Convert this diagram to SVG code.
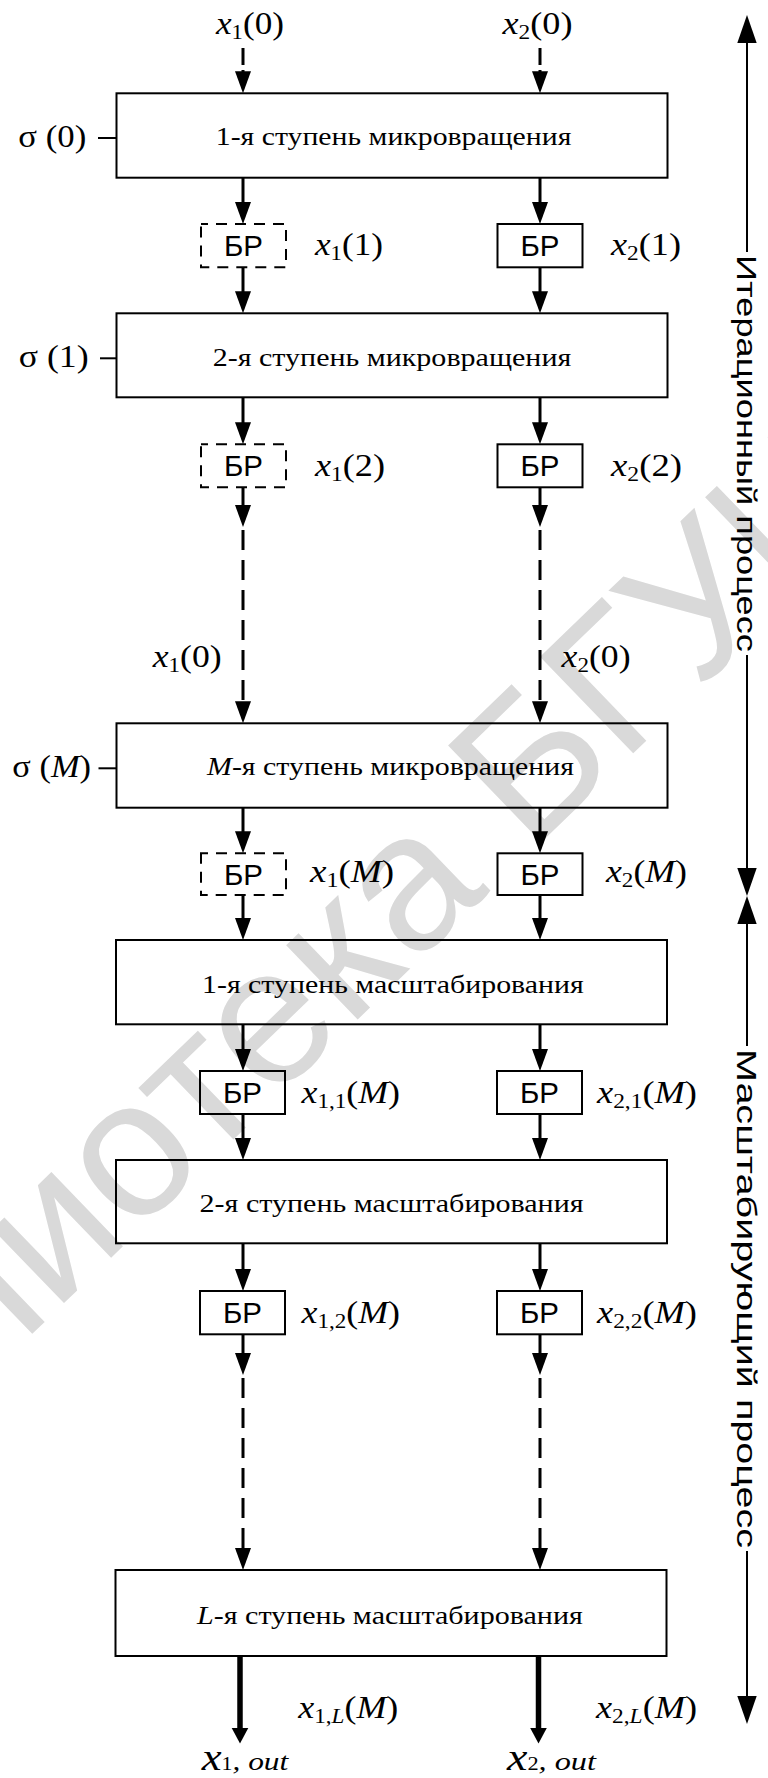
<svg xmlns="http://www.w3.org/2000/svg" width="768" height="1778" viewBox="0 0 768 1778">
<style>
.box{fill:none;stroke:#000;stroke-width:2}
.br{fill:none;stroke:#000;stroke-width:2}
.brd{fill:none;stroke:#000;stroke-width:2;stroke-dasharray:11 8;stroke-dashoffset:4}
.ln{stroke:#000;stroke-width:3;fill:none}
.dl{stroke:#000;stroke-width:3;fill:none;stroke-dasharray:20 10}
.td{stroke:#000;stroke-width:3;fill:none;stroke-dasharray:17 5}
.ol{stroke:#000;stroke-width:5.5;fill:none}
.thin{stroke:#000;stroke-width:2;fill:none}
.bt{font-family:"Liberation Serif","Times New Roman",serif;font-size:26px;text-anchor:middle}
.brt{font-family:"Liberation Sans",Arial,sans-serif;font-size:29px;text-anchor:middle}
.m{font-family:"Liberation Serif","Times New Roman",serif;font-size:31px}
.i{font-style:italic}
.side{font-family:"Liberation Sans",Arial,sans-serif;font-size:28px}
.wm{font-family:"Liberation Sans",Arial,sans-serif;font-size:195px;fill:#d9d9d9}
</style>
<defs>
<path id="ah" d="M0,0 L-8,-22 L8,-22 Z"/>
<path id="ahb" d="M0,0 L-9.7,-28 L9.7,-28 Z"/>
<path id="aho" d="M0,0 L-8.3,-15.5 L8.3,-15.5 Z"/>
</defs>
<rect width="768" height="1778" fill="#fff"/>
<text class="wm" transform="translate(-272,1627.5) rotate(-44)">Библиотека БГУИР</text>

<g id="connectors">
<line class="td" x1="243" y1="48" x2="243" y2="72"/><use href="#ah" x="243" y="93.3"/>
<line class="td" x1="540" y1="48" x2="540" y2="72"/><use href="#ah" x="540" y="93.3"/>
<line class="ln" x1="243" y1="177.7" x2="243" y2="205"/><use href="#ah" x="243" y="224"/>
<line class="ln" x1="540" y1="177.7" x2="540" y2="205"/><use href="#ah" x="540" y="224"/>
<line class="ln" x1="243" y1="267.3" x2="243" y2="295"/><use href="#ah" x="243" y="313.3"/>
<line class="ln" x1="540" y1="267.3" x2="540" y2="295"/><use href="#ah" x="540" y="313.3"/>
<line class="ln" x1="243" y1="397.3" x2="243" y2="425"/><use href="#ah" x="243" y="444.3"/>
<line class="ln" x1="540" y1="397.3" x2="540" y2="425"/><use href="#ah" x="540" y="444.3"/>
<line class="ln" x1="243" y1="487.3" x2="243" y2="508"/><use href="#ah" x="243" y="527"/>
<line class="ln" x1="540" y1="487.3" x2="540" y2="508"/><use href="#ah" x="540" y="527"/>
<line class="dl" x1="243" y1="530" x2="243" y2="703"/><use href="#ah" x="243" y="723.3"/>
<line class="dl" x1="540" y1="530" x2="540" y2="703"/><use href="#ah" x="540" y="723.3"/>
<line class="ln" x1="243" y1="807.7" x2="243" y2="835"/><use href="#ah" x="243" y="853.3"/>
<line class="ln" x1="540" y1="807.7" x2="540" y2="835"/><use href="#ah" x="540" y="853.3"/>
<line class="ln" x1="243" y1="895" x2="243" y2="920"/><use href="#ah" x="243" y="940"/>
<line class="ln" x1="540" y1="895" x2="540" y2="920"/><use href="#ah" x="540" y="940"/>
<line class="ln" x1="243" y1="1024.3" x2="243" y2="1052"/><use href="#ah" x="243" y="1071"/>
<line class="ln" x1="540" y1="1024.3" x2="540" y2="1052"/><use href="#ah" x="540" y="1071"/>
<line class="ln" x1="243" y1="1114" x2="243" y2="1140"/><use href="#ah" x="243" y="1160"/>
<line class="ln" x1="540" y1="1114" x2="540" y2="1140"/><use href="#ah" x="540" y="1160"/>
<line class="ln" x1="243" y1="1243.3" x2="243" y2="1272"/><use href="#ah" x="243" y="1291"/>
<line class="ln" x1="540" y1="1243.3" x2="540" y2="1272"/><use href="#ah" x="540" y="1291"/>
<line class="ln" x1="243" y1="1334.3" x2="243" y2="1356"/><use href="#ah" x="243" y="1375"/>
<line class="ln" x1="540" y1="1334.3" x2="540" y2="1356"/><use href="#ah" x="540" y="1375"/>
<line class="dl" x1="243" y1="1378" x2="243" y2="1550"/><use href="#ah" x="243" y="1570"/>
<line class="dl" x1="540" y1="1378" x2="540" y2="1550"/><use href="#ah" x="540" y="1570"/>
<line class="ol" x1="240" y1="1656" x2="240" y2="1730"/><use href="#aho" x="240" y="1743.5"/>
<line class="ol" x1="538.5" y1="1656" x2="538.5" y2="1730"/><use href="#aho" x="538.5" y="1743.5"/>
<line class="thin" x1="98" y1="138" x2="116.5" y2="138"/>
<line class="thin" x1="100" y1="358.3" x2="116.5" y2="358.3"/>
<line class="thin" x1="98.5" y1="768.3" x2="116.5" y2="768.3"/>
</g>

<g id="process-iter">
<line class="thin" x1="747" y1="40" x2="747" y2="252"/>
<use href="#ahb" transform="translate(747,15) rotate(180)"/>
<text class="side" transform="translate(737,255) rotate(90)" textLength="397" lengthAdjust="spacingAndGlyphs">Итерационный процесс</text>
<line class="thin" x1="747" y1="655" x2="747" y2="870"/>
<use href="#ahb" x="747" y="896"/>
</g>
<g id="process-scale">
<use href="#ahb" transform="translate(747,896) rotate(180)"/>
<line class="thin" x1="747" y1="922" x2="747" y2="1046"/>
<text class="side" transform="translate(737,1049) rotate(90)" textLength="499" lengthAdjust="spacingAndGlyphs">Масштабирующий процесс</text>
<line class="thin" x1="747" y1="1551" x2="747" y2="1698"/>
<use href="#ahb" x="747" y="1724"/>
</g>

<g id="in1"><text class="m" x="216" y="34" textLength="68" lengthAdjust="spacingAndGlyphs"><tspan class="i">x</tspan><tspan font-size="20" dy="5">1</tspan><tspan dy="-5">(0)</tspan></text></g>
<g id="in2"><text class="m" x="502.5" y="34" textLength="70" lengthAdjust="spacingAndGlyphs"><tspan class="i">x</tspan><tspan font-size="20" dy="5">2</tspan><tspan dy="-5">(0)</tspan></text></g>

<g id="stage1">
<rect class="box" x="116.5" y="93.3" width="551" height="84.4"/>
<text class="bt" x="393.6" y="145" textLength="355.6" lengthAdjust="spacingAndGlyphs">1-я ступень микровращения</text>
<text class="m" x="18.3" y="147" textLength="68" lengthAdjust="spacingAndGlyphs">σ (0)</text>
</g>
<g id="br1-1"><rect class="brd" x="201" y="224" width="85" height="43.3"/><text class="brt" x="243.5" y="256" textLength="39" lengthAdjust="spacingAndGlyphs">БР</text>
<text class="m" x="315" y="255" textLength="68" lengthAdjust="spacingAndGlyphs"><tspan class="i">x</tspan><tspan font-size="20" dy="5">1</tspan><tspan dy="-5">(1)</tspan></text></g>
<g id="br2-1"><rect class="br" x="497.5" y="224" width="85" height="43.3"/><text class="brt" x="540" y="256" textLength="39" lengthAdjust="spacingAndGlyphs">БР</text>
<text class="m" x="611" y="255" textLength="70" lengthAdjust="spacingAndGlyphs"><tspan class="i">x</tspan><tspan font-size="20" dy="5">2</tspan><tspan dy="-5">(1)</tspan></text></g>

<g id="stage2">
<rect class="box" x="116.5" y="313.3" width="551" height="84"/>
<text class="bt" x="392" y="365.5" textLength="358.6" lengthAdjust="spacingAndGlyphs">2-я ступень микровращения</text>
<text class="m" x="18.7" y="367" textLength="70" lengthAdjust="spacingAndGlyphs">σ (1)</text>
</g>
<g id="br1-2"><rect class="brd" x="201" y="444.3" width="85" height="43"/><text class="brt" x="243.5" y="476.3" textLength="39" lengthAdjust="spacingAndGlyphs">БР</text>
<text class="m" x="315" y="476" textLength="70" lengthAdjust="spacingAndGlyphs"><tspan class="i">x</tspan><tspan font-size="20" dy="5">1</tspan><tspan dy="-5">(2)</tspan></text></g>
<g id="br2-2"><rect class="br" x="497.5" y="444.3" width="85" height="43"/><text class="brt" x="540" y="476.3" textLength="39" lengthAdjust="spacingAndGlyphs">БР</text>
<text class="m" x="611" y="476" textLength="71" lengthAdjust="spacingAndGlyphs"><tspan class="i">x</tspan><tspan font-size="20" dy="5">2</tspan><tspan dy="-5">(2)</tspan></text></g>

<g id="mid-labels">
<text class="m" x="152.7" y="667" textLength="69" lengthAdjust="spacingAndGlyphs"><tspan class="i">x</tspan><tspan font-size="20" dy="5">1</tspan><tspan dy="-5">(0)</tspan></text>
<text class="m" x="561.6" y="667" textLength="69" lengthAdjust="spacingAndGlyphs"><tspan class="i">x</tspan><tspan font-size="20" dy="5">2</tspan><tspan dy="-5">(0)</tspan></text>
</g>

<g id="stageM">
<rect class="box" x="116.5" y="723.3" width="551" height="84.4"/>
<text class="bt" x="390.5" y="775" textLength="367" lengthAdjust="spacingAndGlyphs"><tspan class="i">M</tspan>-я ступень микровращения</text>
<text class="m" x="12.3" y="776.5" textLength="78.7" lengthAdjust="spacingAndGlyphs">σ (<tspan class="i">M</tspan>)</text>
</g>
<g id="br1-M"><rect class="brd" x="201" y="853.3" width="85" height="41.7"/><text class="brt" x="243.5" y="884.7" textLength="39" lengthAdjust="spacingAndGlyphs">БР</text>
<text class="m" x="310" y="882" textLength="84" lengthAdjust="spacingAndGlyphs"><tspan class="i">x</tspan><tspan font-size="20" dy="5">1</tspan><tspan dy="-5">(</tspan><tspan class="i">M</tspan>)</text></g>
<g id="br2-M"><rect class="br" x="497.5" y="853.3" width="85" height="41.7"/><text class="brt" x="540" y="884.7" textLength="39" lengthAdjust="spacingAndGlyphs">БР</text>
<text class="m" x="606" y="882" textLength="81" lengthAdjust="spacingAndGlyphs"><tspan class="i">x</tspan><tspan font-size="20" dy="5">2</tspan><tspan dy="-5">(</tspan><tspan class="i">M</tspan>)</text></g>

<g id="scale1">
<rect class="box" x="116" y="940" width="551" height="84.3"/>
<text class="bt" x="392.9" y="992.5" textLength="381.7" lengthAdjust="spacingAndGlyphs">1-я ступень масштабирования</text>
</g>
<g id="br1-s1"><rect class="br" x="200" y="1071" width="85" height="43"/><text class="brt" x="242.5" y="1103" textLength="39" lengthAdjust="spacingAndGlyphs">БР</text>
<text class="m" x="301.5" y="1103" textLength="98.5" lengthAdjust="spacingAndGlyphs"><tspan class="i">x</tspan><tspan font-size="20" dy="5">1,1</tspan><tspan dy="-5">(</tspan><tspan class="i">M</tspan>)</text></g>
<g id="br2-s1"><rect class="br" x="497" y="1071" width="85" height="43"/><text class="brt" x="539.5" y="1103" textLength="39" lengthAdjust="spacingAndGlyphs">БР</text>
<text class="m" x="597" y="1103" textLength="100" lengthAdjust="spacingAndGlyphs"><tspan class="i">x</tspan><tspan font-size="20" dy="5">2,1</tspan><tspan dy="-5">(</tspan><tspan class="i">M</tspan>)</text></g>

<g id="scale2">
<rect class="box" x="116" y="1160" width="551" height="83.3"/>
<text class="bt" x="391.6" y="1212" textLength="384" lengthAdjust="spacingAndGlyphs">2-я ступень масштабирования</text>
</g>
<g id="br1-s2"><rect class="br" x="200" y="1291" width="85" height="43.3"/><text class="brt" x="242.5" y="1323" textLength="39" lengthAdjust="spacingAndGlyphs">БР</text>
<text class="m" x="301.5" y="1323" textLength="98.5" lengthAdjust="spacingAndGlyphs"><tspan class="i">x</tspan><tspan font-size="20" dy="5">1,2</tspan><tspan dy="-5">(</tspan><tspan class="i">M</tspan>)</text></g>
<g id="br2-s2"><rect class="br" x="497" y="1291" width="85" height="43.3"/><text class="brt" x="539.5" y="1323" textLength="39" lengthAdjust="spacingAndGlyphs">БР</text>
<text class="m" x="597" y="1323" textLength="100" lengthAdjust="spacingAndGlyphs"><tspan class="i">x</tspan><tspan font-size="20" dy="5">2,2</tspan><tspan dy="-5">(</tspan><tspan class="i">M</tspan>)</text></g>

<g id="scaleL">
<rect class="box" x="115.5" y="1570" width="551" height="86"/>
<text class="bt" x="389.9" y="1624" textLength="385.8" lengthAdjust="spacingAndGlyphs"><tspan class="i">L</tspan>-я ступень масштабирования</text>
</g>
<g id="out1">
<text class="m" x="298.3" y="1718" textLength="100" lengthAdjust="spacingAndGlyphs"><tspan class="i">x</tspan><tspan font-size="20" dy="5">1,</tspan><tspan font-size="20" class="i">L</tspan><tspan dy="-5">(</tspan><tspan class="i">M</tspan>)</text>
<text class="m" x="201.7" y="1770" textLength="86.6" lengthAdjust="spacingAndGlyphs"><tspan class="i" font-size="37">x</tspan><tspan font-size="18">1</tspan><tspan class="i" font-size="26">, out</tspan></text>
</g>
<g id="out2">
<text class="m" x="596" y="1718" textLength="101" lengthAdjust="spacingAndGlyphs"><tspan class="i">x</tspan><tspan font-size="20" dy="5">2,</tspan><tspan font-size="20" class="i">L</tspan><tspan dy="-5">(</tspan><tspan class="i">M</tspan>)</text>
<text class="m" x="507" y="1770" textLength="89" lengthAdjust="spacingAndGlyphs"><tspan class="i" font-size="37">x</tspan><tspan font-size="18">2</tspan><tspan class="i" font-size="26">, out</tspan></text>
</g>
</svg>
